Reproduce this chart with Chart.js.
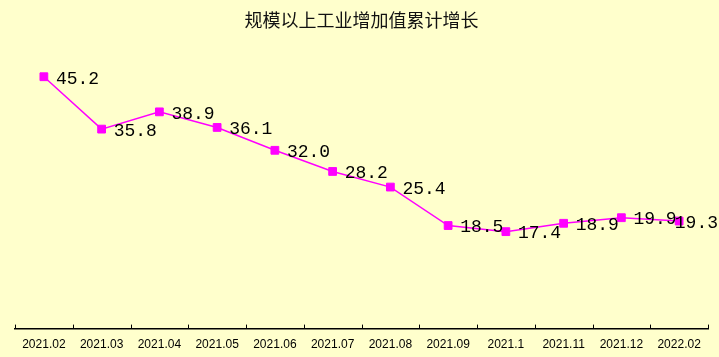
<!DOCTYPE html>
<html>
<head>
<meta charset="utf-8">
<script src="https://cdn.jsdelivr.net/npm/chart.js@4/dist/chart.umd.min.js"></script>
<style>
html,body{margin:0;padding:0;background:#FFFFCC;}
canvas{display:block;}
</style>
</head>
<body>
<canvas id="c" width="719" height="357"></canvas>
<script>
const title = '规模以上工业增加值累计增长';
const categories = ['2021.02','2021.03','2021.04','2021.05','2021.06','2021.07','2021.08','2021.09','2021.1','2021.11','2021.12','2022.02'];
const growth = [45.2, 35.8, 38.9, 36.1, 32.0, 28.2, 25.4, 18.5, 17.4, 18.9, 19.9, 19.3];

const bgPlugin = {
  id: 'bg',
  beforeDraw(chart) {
    const ctx = chart.ctx;
    ctx.save();
    ctx.fillStyle = '#FFFFCC';
    ctx.fillRect(0, 0, chart.width, chart.height);
    ctx.restore();
  }
};

const tickPlugin = {
  id: 'upTicks',
  afterDraw(chart) {
    const xs = chart.scales.x;
    const ctx = chart.ctx;
    const bottom = chart.chartArea.bottom;
    ctx.save();
    ctx.strokeStyle = '#000';
    ctx.lineWidth = 1;
    for (let i = 0; i <= categories.length; i++) {
      const x = Math.round(xs.getPixelForValue(i - 0.5)) + 0.5;
      ctx.beginPath();
      ctx.moveTo(x, bottom);
      ctx.lineTo(x, bottom - 4);
      ctx.stroke();
    }
    ctx.restore();
  }
};

const labelPlugin = {
  id: 'valLabels',
  afterDatasetsDraw(chart) {
    const meta = chart.getDatasetMeta(0);
    const ctx = chart.ctx;
    ctx.save();
    ctx.font = '18px "Liberation Mono", monospace';
    ctx.fillStyle = '#000';
    ctx.textAlign = 'left';
    ctx.textBaseline = 'middle';
    meta.data.forEach((pt, i) => {
      const txt = growth[i].toFixed(1);
      const w = ctx.measureText(txt).width;
      let x = pt.x + 12;
      if (x + w > chart.width - 1) x = chart.width - 1 - w;
      ctx.fillText(txt, x, pt.y + 2);
    });
    ctx.restore();
  }
};

new Chart(document.getElementById('c'), {
  type: 'line',
  data: {
    labels: categories,
    datasets: [{
      data: growth,
      borderColor: '#FF00FF',
      backgroundColor: '#FF00FF',
      borderWidth: 1.5,
      pointStyle: 'rect',
      pointRadius: 5.5,
      pointBorderWidth: 1,
      pointBorderColor: '#FF00FF',
      pointBackgroundColor: '#FF00FF',
      tension: 0
    }]
  },
  options: {
    responsive: false,
    animation: false,
    layout: { autoPadding: false, padding: { left: 15, right: 11, top: 0, bottom: -4 } },
    plugins: {
      legend: { display: false },
      tooltip: { enabled: false },
      title: {
        display: true,
        text: title,
        color: '#111',
        font: { family: '"Noto Sans CJK SC", sans-serif', size: 18, weight: 'normal' },
        padding: { top: 9, bottom: 19.4 }
      }
    },
    scales: {
      x: {
        offset: true,
        grid: { display: false, drawTicks: false, tickLength: 0, offset: true },
        border: { display: true, color: '#000', width: 1.5 },
        ticks: {
          color: '#000',
          font: { family: '"Liberation Sans", sans-serif', size: 12 },
          padding: 9,
          maxRotation: 0,
          autoSkip: false
        }
      },
      y: {
        display: false,
        min: 0,
        max: 50
      }
    }
  },
  plugins: [bgPlugin, tickPlugin, labelPlugin]
});
</script>
</body>
</html>
